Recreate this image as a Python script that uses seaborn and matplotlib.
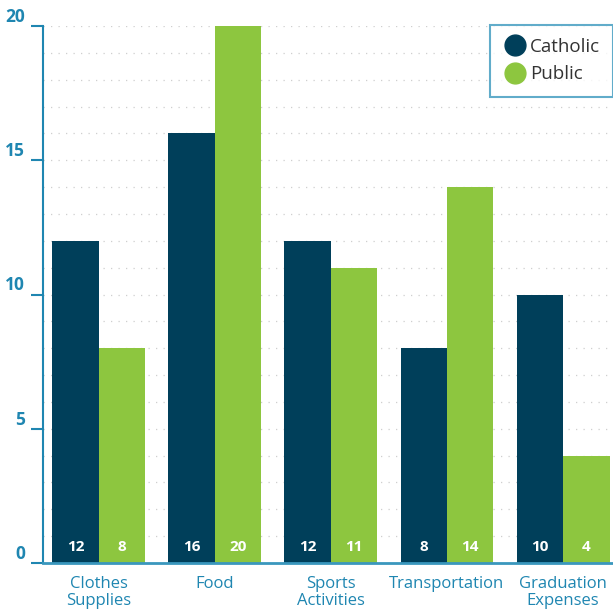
import matplotlib
matplotlib.use("Agg")
import matplotlib.pyplot as plt
from matplotlib.lines import Line2D
from matplotlib.ticker import MultipleLocator
import pandas as pd
import seaborn as sns

# Expense categories and counts per school type
categories = ["Clothes\nSupplies", "Food", "Sports\nActivities", "Transportation", "Graduation\nExpenses"]
catholic = [12, 16, 12, 8, 10]
public = [8, 20, 11, 14, 4]
series_names = ["Catholic", "Public"]
y_ticks = [0, 5, 10, 15, 20]

NAVY = "#003f5a"
GREEN = "#8dc63f"
TEAL = "#1f86b1"
FRAME = "#3a97bd"

sns.set_theme(style="white")
plt.rcParams["font.family"] = ["Open Sans", "DejaVu Sans"]

df = pd.DataFrame({
    "category": categories * 2,
    "count": catholic + public,
    "school": [series_names[0]] * len(categories) + [series_names[1]] * len(categories),
})

fig = plt.figure(figsize=(6.13, 6.11), dpi=100)
ax = fig.add_axes([43 / 613, 48 / 611, 1 - 43 / 613, (563 - 26) / 611])

sns.barplot(data=df, x="category", y="count", hue="school", order=categories,
            hue_order=series_names, palette=[NAVY, GREEN], width=0.8, gap=0,
            saturation=1, linewidth=0, ax=ax, legend=False, zorder=2)

ax.set_ylim(0, 20)
ax.set_xlim(-0.48, 4.43)
ax.set_xlabel("")
ax.set_ylabel("")

# dotted guide lines at every unit
ax.yaxis.set_minor_locator(MultipleLocator(1))
ax.set_yticks(y_ticks)
ax.grid(which="both", axis="y", linestyle=(0, (1, 5)), color="#cfcfcf", linewidth=0.9, zorder=0)
ax.set_axisbelow(True)

for side in ["top", "right"]:
    ax.spines[side].set_visible(False)
ax.spines["left"].set_color(TEAL)
ax.spines["left"].set_linewidth(1.5)
ax.spines["bottom"].set_color(FRAME)
ax.spines["bottom"].set_linewidth(2)

ax.tick_params(axis="y", which="major", left=True, length=9, width=1.5, color=TEAL,
               labelsize=12.5, labelcolor=TEAL, pad=4)
ax.tick_params(axis="y", which="minor", left=False)
ax.tick_params(axis="x", bottom=False, labelsize=12, labelcolor=TEAL, pad=3)
for lbl in ax.get_yticklabels():
    lbl.set_fontweight("bold")
    lbl.set_verticalalignment("bottom")
for lbl in ax.get_xticklabels():
    lbl.set_linespacing(1.15)

# value labels near the base of each bar
for container, values in zip(ax.containers, [catholic, public]):
    for patch, v in zip(container.patches, values):
        ax.annotate(str(v), (patch.get_x() + patch.get_width() / 2, 0),
                    xytext=(0, 11.5), textcoords="offset points",
                    ha="center", va="center", color="white",
                    fontsize=11, fontweight="bold", zorder=3)

handles = [Line2D([], [], marker="o", linestyle="", markersize=15,
                  markerfacecolor=c, markeredgecolor=c) for c in [NAVY, GREEN]]
leg = ax.legend(handles, series_names, loc="upper right", bbox_to_anchor=(1.0, 1.002),
                frameon=True, fancybox=False, fontsize=13.5, handletextpad=0.2,
                borderpad=0.7, labelspacing=0.5, handlelength=1.2, borderaxespad=0)
leg.get_frame().set_edgecolor(FRAME)
leg.get_frame().set_linewidth(1.5)
for t in leg.get_texts():
    t.set_color("#333333")

fig.savefig("out.png", dpi=100)
